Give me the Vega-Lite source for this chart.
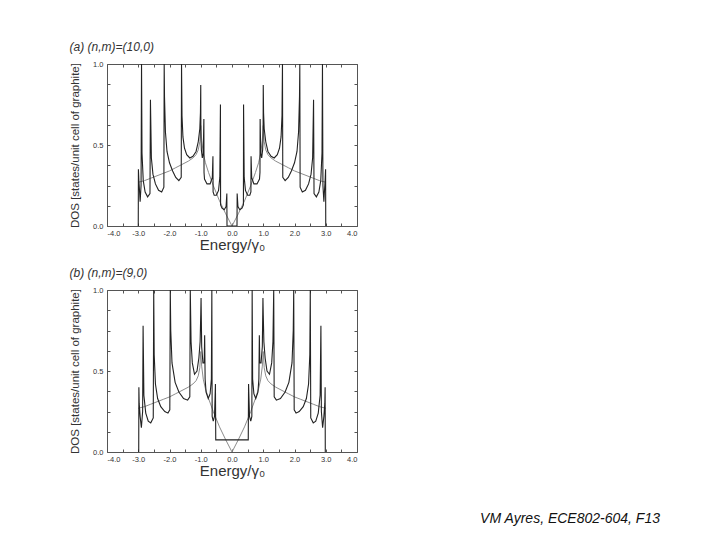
{
  "$schema": "https://vega.github.io/schema/vega-lite/v6.json",
  "background": "white",
  "padding": {"left": 69, "top": 40, "right": 5, "bottom": 5},
  "config": {
    "font": "Liberation Sans",
    "view": {"stroke": "#555", "strokeWidth": 1},
    "axis": {"grid": false, "domain": false, "labelFont": "Liberation Sans", "labelFontSize": 7.5, "labelColor": "#333", "tickColor": "#555", "titleFont": "Liberation Sans", "titleFontWeight": "normal", "titleColor": "#333"},
    "title": {"font": "Liberation Sans", "fontSize": 12, "fontWeight": "normal", "fontStyle": "italic", "color": "#333", "anchor": "start", "frame": "bounds", "offset": 6}
  },
  "title": {"text": "VM Ayres, ECE802-604, F13", "orient": "bottom", "anchor": "end", "frame": "group", "fontSize": 14, "fontStyle": "italic", "color": "#111", "dx": 303, "offset": 33},
  "datasets": {
    "a": [
      {"E":-3.0,"D":0},{"E":-2.995,"D":0.35},{"E":-2.98,"D":0.28},{"E":-2.96,"D":0.22},{"E":-2.94,"D":0.15},{"E":-2.91,"D":0.25},{"E":-2.895,"D":1.0},{"E":-2.88,"D":0.45},{"E":-2.84,"D":0.28},{"E":-2.78,"D":0.21},{"E":-2.7,"D":0.18},{"E":-2.625,"D":0.2},{"E":-2.61,"D":0.78},{"E":-2.58,"D":0.42},{"E":-2.53,"D":0.32},{"E":-2.45,"D":0.26},{"E":-2.35,"D":0.22},{"E":-2.25,"D":0.21},{"E":-2.18,"D":0.24},{"E":-2.17,"D":1.0},{"E":-2.16,"D":0.8},{"E":-2.13,"D":0.58},{"E":-2.08,"D":0.46},{"E":-2.0,"D":0.39},{"E":-1.9,"D":0.34},{"E":-1.8,"D":0.3},{"E":-1.7,"D":0.28},{"E":-1.625,"D":0.3},{"E":-1.615,"D":1.0},{"E":-1.6,"D":0.68},{"E":-1.57,"D":0.55},{"E":-1.52,"D":0.48},{"E":-1.45,"D":0.44},{"E":-1.35,"D":0.42},{"E":-1.25,"D":0.43},{"E":-1.15,"D":0.46},{"E":-1.08,"D":0.52},{"E":-1.03,"D":0.6},{"E":-1.01,"D":0.7},{"E":-1.0,"D":0.87},{"E":-0.995,"D":0.55},{"E":-0.98,"D":0.47},{"E":-0.95,"D":0.42},{"E":-0.92,"D":0.45},{"E":-0.9,"D":0.66},{"E":-0.895,"D":0.33},{"E":-0.88,"D":0.29},{"E":-0.8,"D":0.26},{"E":-0.7,"D":0.26},{"E":-0.63,"D":0.3},{"E":-0.61,"D":0.43},{"E":-0.605,"D":0.21},{"E":-0.57,"D":0.19},{"E":-0.5,"D":0.19},{"E":-0.43,"D":0.22},{"E":-0.39,"D":0.3},{"E":-0.37,"D":0.75},{"E":-0.365,"D":0.13},{"E":-0.32,"D":0.11},{"E":-0.25,"D":0.1},{"E":-0.19,"D":0.12},{"E":-0.165,"D":0.2},{"E":-0.16,"D":0},
      {"E":0.0,"D":0},
      {"E":0.16,"D":0},{"E":0.165,"D":0.2},{"E":0.19,"D":0.12},{"E":0.25,"D":0.1},{"E":0.32,"D":0.11},{"E":0.365,"D":0.13},{"E":0.37,"D":0.75},{"E":0.39,"D":0.3},{"E":0.43,"D":0.22},{"E":0.5,"D":0.19},{"E":0.57,"D":0.19},{"E":0.605,"D":0.21},{"E":0.61,"D":0.43},{"E":0.63,"D":0.3},{"E":0.7,"D":0.26},{"E":0.8,"D":0.26},{"E":0.88,"D":0.29},{"E":0.895,"D":0.33},{"E":0.9,"D":0.66},{"E":0.92,"D":0.45},{"E":0.95,"D":0.42},{"E":0.98,"D":0.47},{"E":0.995,"D":0.55},{"E":1.0,"D":0.87},{"E":1.01,"D":0.7},{"E":1.03,"D":0.6},{"E":1.08,"D":0.52},{"E":1.15,"D":0.46},{"E":1.25,"D":0.43},{"E":1.35,"D":0.42},{"E":1.45,"D":0.44},{"E":1.52,"D":0.48},{"E":1.57,"D":0.55},{"E":1.6,"D":0.68},{"E":1.615,"D":1.0},{"E":1.625,"D":0.3},{"E":1.7,"D":0.28},{"E":1.8,"D":0.3},{"E":1.9,"D":0.34},{"E":2.0,"D":0.39},{"E":2.08,"D":0.46},{"E":2.13,"D":0.58},{"E":2.16,"D":0.8},{"E":2.17,"D":1.0},{"E":2.18,"D":0.24},{"E":2.25,"D":0.21},{"E":2.35,"D":0.22},{"E":2.45,"D":0.26},{"E":2.53,"D":0.32},{"E":2.58,"D":0.42},{"E":2.61,"D":0.78},{"E":2.625,"D":0.2},{"E":2.7,"D":0.18},{"E":2.78,"D":0.21},{"E":2.84,"D":0.28},{"E":2.88,"D":0.45},{"E":2.895,"D":1.0},{"E":2.91,"D":0.25},{"E":2.94,"D":0.15},{"E":2.96,"D":0.22},{"E":2.98,"D":0.28},{"E":2.995,"D":0.35},{"E":3.0,"D":0}
    ],
    "b": [
      {"E":-2.985,"D":0},{"E":-2.98,"D":0.4},{"E":-2.97,"D":0.3},{"E":-2.94,"D":0.22},{"E":-2.9,"D":0.15},{"E":-2.86,"D":0.25},{"E":-2.845,"D":0.78},{"E":-2.82,"D":0.35},{"E":-2.76,"D":0.24},{"E":-2.68,"D":0.19},{"E":-2.6,"D":0.18},{"E":-2.52,"D":0.21},{"E":-2.505,"D":1.0},{"E":-2.49,"D":0.6},{"E":-2.45,"D":0.42},{"E":-2.38,"D":0.33},{"E":-2.28,"D":0.28},{"E":-2.15,"D":0.25},{"E":-2.05,"D":0.24},{"E":-1.99,"D":0.26},{"E":-1.975,"D":1.0},{"E":-1.96,"D":0.75},{"E":-1.92,"D":0.55},{"E":-1.82,"D":0.43},{"E":-1.7,"D":0.37},{"E":-1.55,"D":0.33},{"E":-1.42,"D":0.32},{"E":-1.35,"D":0.34},{"E":-1.335,"D":1.0},{"E":-1.31,"D":0.68},{"E":-1.27,"D":0.55},{"E":-1.2,"D":0.48},{"E":-1.12,"D":0.5},{"E":-1.06,"D":0.58},{"E":-1.02,"D":0.68},{"E":-1.0,"D":0.85},{"E":-0.99,"D":0.95},{"E":-0.97,"D":0.65},{"E":-0.93,"D":0.55},{"E":-0.89,"D":0.55},{"E":-0.875,"D":0.72},{"E":-0.86,"D":0.45},{"E":-0.83,"D":0.37},{"E":-0.76,"D":0.33},{"E":-0.7,"D":0.36},{"E":-0.66,"D":0.45},{"E":-0.645,"D":1.0},{"E":-0.635,"D":0.22},{"E":-0.6,"D":0.19},{"E":-0.56,"D":0.22},{"E":-0.53,"D":0.42},{"E":-0.52,"D":0.075},
      {"E":0.0,"D":0.075},
      {"E":0.52,"D":0.075},{"E":0.53,"D":0.42},{"E":0.56,"D":0.22},{"E":0.6,"D":0.19},{"E":0.635,"D":0.22},{"E":0.645,"D":1.0},{"E":0.66,"D":0.45},{"E":0.7,"D":0.36},{"E":0.76,"D":0.33},{"E":0.83,"D":0.37},{"E":0.86,"D":0.45},{"E":0.875,"D":0.72},{"E":0.89,"D":0.55},{"E":0.93,"D":0.55},{"E":0.97,"D":0.65},{"E":0.99,"D":0.95},{"E":1.0,"D":0.85},{"E":1.02,"D":0.68},{"E":1.06,"D":0.58},{"E":1.12,"D":0.5},{"E":1.2,"D":0.48},{"E":1.27,"D":0.55},{"E":1.31,"D":0.68},{"E":1.335,"D":1.0},{"E":1.35,"D":0.34},{"E":1.42,"D":0.32},{"E":1.55,"D":0.33},{"E":1.7,"D":0.37},{"E":1.82,"D":0.43},{"E":1.92,"D":0.55},{"E":1.96,"D":0.75},{"E":1.975,"D":1.0},{"E":1.99,"D":0.26},{"E":2.05,"D":0.24},{"E":2.15,"D":0.25},{"E":2.28,"D":0.28},{"E":2.38,"D":0.33},{"E":2.45,"D":0.42},{"E":2.49,"D":0.6},{"E":2.505,"D":1.0},{"E":2.52,"D":0.21},{"E":2.6,"D":0.18},{"E":2.68,"D":0.19},{"E":2.76,"D":0.24},{"E":2.82,"D":0.35},{"E":2.845,"D":0.78},{"E":2.86,"D":0.25},{"E":2.9,"D":0.15},{"E":2.94,"D":0.22},{"E":2.97,"D":0.3},{"E":2.98,"D":0.4},{"E":2.985,"D":0}
    ],
    "g": [
      {"E":-3.0,"D":0.27},{"E":-2.8,"D":0.28},{"E":-2.6,"D":0.295},{"E":-2.4,"D":0.31},{"E":-2.2,"D":0.325},{"E":-2.0,"D":0.34},{"E":-1.8,"D":0.36},{"E":-1.6,"D":0.38},{"E":-1.4,"D":0.4},{"E":-1.25,"D":0.42},{"E":-1.15,"D":0.44},{"E":-1.08,"D":0.47},{"E":-1.03,"D":0.52},{"E":-1.0,"D":0.62},{"E":-0.97,"D":0.53},{"E":-0.92,"D":0.45},{"E":-0.85,"D":0.39},{"E":-0.75,"D":0.33},{"E":-0.6,"D":0.25},{"E":-0.4,"D":0.155},{"E":-0.2,"D":0.075},{"E":0.0,"D":0},
      {"E":0.2,"D":0.075},{"E":0.4,"D":0.155},{"E":0.6,"D":0.25},{"E":0.75,"D":0.33},{"E":0.85,"D":0.39},{"E":0.92,"D":0.45},{"E":0.97,"D":0.53},{"E":1.0,"D":0.62},{"E":1.03,"D":0.52},{"E":1.08,"D":0.47},{"E":1.15,"D":0.44},{"E":1.25,"D":0.42},{"E":1.4,"D":0.4},{"E":1.6,"D":0.38},{"E":1.8,"D":0.36},{"E":2.0,"D":0.34},{"E":2.2,"D":0.325},{"E":2.4,"D":0.31},{"E":2.6,"D":0.295},{"E":2.8,"D":0.28},{"E":3.0,"D":0.27}
    ]
  },
  "spacing": 13,
  "vconcat": [
    {
      "width": 250, "height": 162,
      "title": {"text": "(a) (n,m)=(10,0)"},
      "layer": [
        {
          "data": {"name": "g"},
          "mark": {"type": "line", "color": "#8c8c8c", "strokeWidth": 1, "clip": true},
          "encoding": {
            "x": {"field": "E", "type": "quantitative", "scale": {"domain": [-4, 4], "nice": false, "zero": false},
                  "axis": {"orient": "top", "labels": false, "title": null, "values": [-4,-3.5,-3,-2.5,-2,-1.5,-1,-0.5,0,0.5,1,1.5,2,2.5,3,3.5,4], "tickSize": -3}},
            "y": {"field": "D", "type": "quantitative", "scale": {"domain": [0, 1], "nice": false},
                  "axis": {"orient": "right", "labels": false, "title": null, "values": [0,0.125,0.25,0.375,0.5,0.625,0.75,0.875,1], "tickSize": -3}}
          }
        },
        {
          "data": {"name": "a"},
          "mark": {"type": "line", "color": "#222", "strokeWidth": 1.1, "clip": true},
          "encoding": {
            "x": {"field": "E", "type": "quantitative", "scale": {"domain": [-4, 4], "nice": false, "zero": false},
                  "axis": {"orient": "bottom", "values": [-4,-3.5,-3,-2.5,-2,-1.5,-1,-0.5,0,0.5,1,1.5,2,2.5,3,3.5,4], "tickSize": -3,
                           "labelExpr": "datum.value % 1 === 0 ? replace(format(datum.value, '.1f'), '\u2212', '-') : ''",
                           "labelPadding": 6, "title": "Energy/γ₀", "titleFontSize": 15, "titlePadding": 1}},
            "y": {"field": "D", "type": "quantitative", "scale": {"domain": [0, 1], "nice": false},
                  "axis": {"orient": "left", "values": [0,0.125,0.25,0.375,0.5,0.625,0.75,0.875,1], "tickSize": -3,
                           "labelExpr": "datum.value % 0.5 === 0 ? format(datum.value, '.1f') : ''",
                           "labelPadding": 7, "title": "DOS [states/unit cell of graphite]", "titleFontSize": 11.5, "titlePadding": 12}}
          }
        }
      ],
      "resolve": {"axis": {"x": "independent", "y": "independent"}}
    },
    {
      "width": 250, "height": 162,
      "title": {"text": "(b) (n,m)=(9,0)"},
      "layer": [
        {
          "data": {"name": "g"},
          "mark": {"type": "line", "color": "#8c8c8c", "strokeWidth": 1, "clip": true},
          "encoding": {
            "x": {"field": "E", "type": "quantitative", "scale": {"domain": [-4, 4], "nice": false, "zero": false},
                  "axis": {"orient": "top", "labels": false, "title": null, "values": [-4,-3.5,-3,-2.5,-2,-1.5,-1,-0.5,0,0.5,1,1.5,2,2.5,3,3.5,4], "tickSize": -3}},
            "y": {"field": "D", "type": "quantitative", "scale": {"domain": [0, 1], "nice": false},
                  "axis": {"orient": "right", "labels": false, "title": null, "values": [0,0.125,0.25,0.375,0.5,0.625,0.75,0.875,1], "tickSize": -3}}
          }
        },
        {
          "data": {"name": "b"},
          "mark": {"type": "line", "color": "#222", "strokeWidth": 1.1, "clip": true},
          "encoding": {
            "x": {"field": "E", "type": "quantitative", "scale": {"domain": [-4, 4], "nice": false, "zero": false},
                  "axis": {"orient": "bottom", "values": [-4,-3.5,-3,-2.5,-2,-1.5,-1,-0.5,0,0.5,1,1.5,2,2.5,3,3.5,4], "tickSize": -3,
                           "labelExpr": "datum.value % 1 === 0 ? replace(format(datum.value, '.1f'), '\u2212', '-') : ''",
                           "labelPadding": 6, "title": "Energy/γ₀", "titleFontSize": 15, "titlePadding": 1}},
            "y": {"field": "D", "type": "quantitative", "scale": {"domain": [0, 1], "nice": false},
                  "axis": {"orient": "left", "values": [0,0.125,0.25,0.375,0.5,0.625,0.75,0.875,1], "tickSize": -3,
                           "labelExpr": "datum.value % 0.5 === 0 ? format(datum.value, '.1f') : ''",
                           "labelPadding": 7, "title": "DOS [states/unit cell of graphite]", "titleFontSize": 11.5, "titlePadding": 12}}
          }
        }
      ],
      "resolve": {"axis": {"x": "independent", "y": "independent"}}
    }
  ]
}
